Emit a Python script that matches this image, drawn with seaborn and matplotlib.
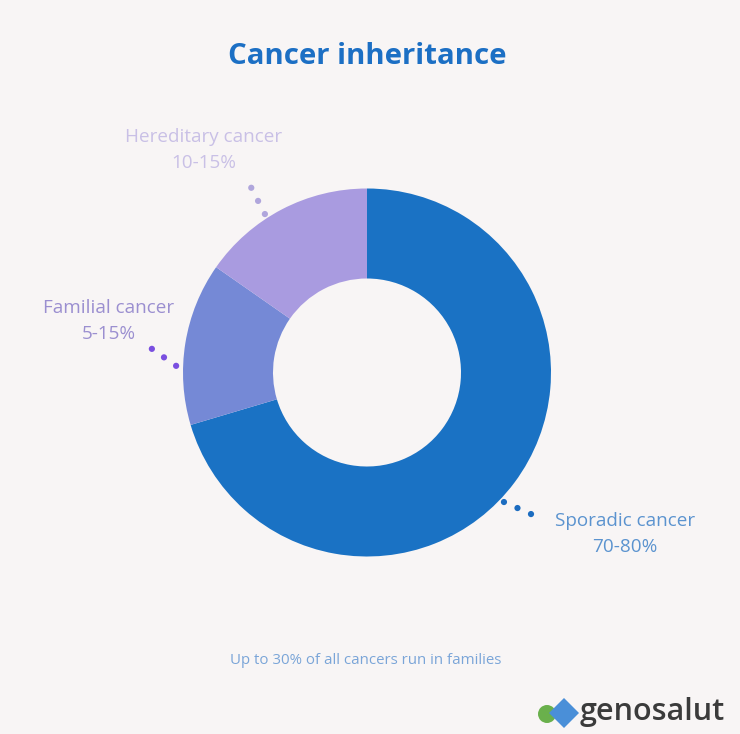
import numpy as np
import matplotlib
matplotlib.use("Agg")
import matplotlib.pyplot as plt
import seaborn as sns
from matplotlib.patches import Circle, Polygon

# --- data -------------------------------------------------------------
categories = ["Sporadic cancer", "Familial cancer", "Hereditary cancer"]
shares = [70.4, 14.3, 15.3]
range_labels = ["70-80%", "5-15%", "10-15%"]

# --- styling ----------------------------------------------------------
sns.set_theme(style="white")
plt.rcParams["font.family"] = ["Open Sans", "DejaVu Sans"]

bg = "#f8f5f5"
wedge_colors = ["#1a72c4", "#7589d6", "#a99be0"]
text_colors = ["#5b93cf", "#9b8fd0", "#c9c0e6"]
dot_colors = ["#1c6cc0", "#7a4fe0", "#b0a6dc"]

W, H = 740, 734
fig = plt.figure(figsize=(W / 100, H / 100), dpi=100, facecolor=bg)
ax = fig.add_axes([0, 0, 1, 1])
ax.set_facecolor(bg)

cx, cy = 367, H - 372.5
r_out, r_in = 184, 94

ax.pie(
    shares,
    colors=wedge_colors,
    startangle=90,
    counterclock=False,
    radius=r_out,
    center=(cx, cy),
    frame=True,
    wedgeprops=dict(width=r_out - r_in, linewidth=0),
)
ax.set_xlim(0, W)
ax.set_ylim(0, H)
ax.set_aspect("equal")
ax.axis("off")

# dotted leaders: (angle on ring, start radius, stepping direction)
leaders = [(-43.4, 188.5, -24), (178, 191, 145), (122.8, 188.5, 117.4)]
for (ang, r0, direction), col in zip(leaders, dot_colors):
    t = np.deg2rad(ang)
    d = np.deg2rad(direction)
    x0, y0 = cx + r0 * np.cos(t), cy + r0 * np.sin(t)
    for k in range(3):
        ax.add_patch(Circle((x0 + 14.8 * k * np.cos(d), y0 + 14.8 * k * np.sin(d)),
                            3.1, color=col, lw=0))

# category labels with their ranges
label_pos = [(625, H - 521), (109, H - 308), (204, H - 137)]
for (x, y), name, rng, col in zip(label_pos, categories, range_labels, text_colors):
    ax.text(x, y, name, ha="center", va="center", fontsize=13.6, color=col)
    ax.text(x, y - 26, rng, ha="center", va="center", fontsize=13.6, color=col)

# title and footnote
ax.text(367, H - 57, "Cancer inheritance", ha="center", va="center",
        fontsize=21.2, fontweight="bold", color="#1c6fc4")
ax.text(366, H - 661, "Up to 30% of all cancers run in families", ha="center",
        va="center", fontsize=10.8, color="#7aa5d8")

# brand mark
ax.add_patch(Circle((547, H - 714), 9, color="#6ab04c", lw=0))
ax.add_patch(Polygon([(564, H - 698), (579, H - 713), (564, H - 728), (549, H - 713)],
                     closed=True, color="#4a8fd8", lw=0))
ax.text(580, H - 712, "genosalut", ha="left", va="center", fontsize=22,
        fontweight="semibold", color="#3b3b3b")

fig.savefig("out.png", dpi=100, facecolor=bg)
